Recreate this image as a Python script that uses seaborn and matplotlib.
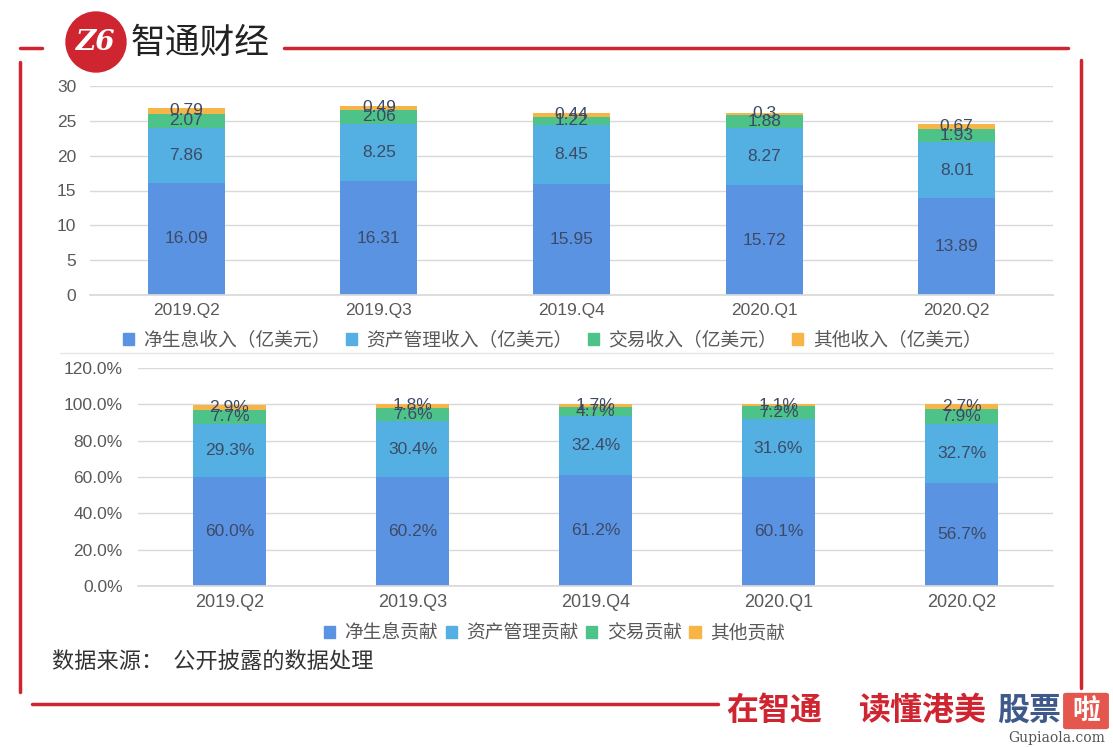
import seaborn as sns
import matplotlib.pyplot as plt
import pandas as pd
import numpy as np
from matplotlib.patches import Patch, Ellipse, FancyBboxPatch
from matplotlib.lines import Line2D

sns.set_theme(style="white")
plt.rcParams["font.family"] = ["Liberation Sans", "Noto Sans CJK SC", "DejaVu Sans"]

quarters = ["2019.Q2", "2019.Q3", "2019.Q4", "2020.Q1", "2020.Q2"]

# revenue, 亿美元
net_interest = [16.09, 16.31, 15.95, 15.72, 13.89]
asset_mgmt = [7.86, 8.25, 8.45, 8.27, 8.01]
trading = [2.07, 2.06, 1.22, 1.88, 1.93]
other = [0.79, 0.49, 0.44, 0.3, 0.67]

# contribution, %
net_interest_pct = [60.0, 60.2, 61.2, 60.1, 56.7]
asset_mgmt_pct = [29.3, 30.4, 32.4, 31.6, 32.7]
trading_pct = [7.7, 7.6, 4.7, 7.2, 7.9]
other_pct = [2.9, 1.8, 1.7, 1.1, 2.7]

top_names = ["净生息收入（亿美元）", "资产管理收入（亿美元）", "交易收入（亿美元）", "其他收入（亿美元）"]
bottom_names = ["净生息贡献", "资产管理贡献", "交易贡献", "其他贡献"]

colors = ["#5b93e3", "#54b0e2", "#4dc38a", "#f7b548"]
LABEL_C = "#3d4a66"
TICK_C = "#595959"
GRID_C = "#d9d9d9"
RED = "#cf2530"

W, H = 1113, 747


def fx(x):
    return x / W


def fy(y):
    return 1 - y / H


def stacked(ax, series, names, fmt, width):
    cum = np.cumsum(np.array(series), axis=0)
    # draw from the tallest cumulative down so each segment shows
    for i in reversed(range(len(series))):
        sns.barplot(x=quarters, y=cum[i], color=colors[i], width=width,
                    saturation=1, ax=ax, linewidth=0)
    for i, s in enumerate(series):
        for j, v in enumerate(s):
            mid = cum[i][j] - v / 2
            ax.text(j, mid, fmt(v), ha="center", va="center", fontsize=12.5,
                    color=LABEL_C)
    ax.set_xlim(-0.5, len(quarters) - 0.5)
    ax.yaxis.grid(True, color=GRID_C, lw=1)
    ax.set_axisbelow(True)
    for sp in ["top", "left", "right"]:
        ax.spines[sp].set_visible(False)
    ax.spines["bottom"].set_color(GRID_C)
    ax.tick_params(length=0, colors=TICK_C, labelsize=12.5)
    ax.tick_params(axis="x", pad=6)
    ax.set_xlabel("")
    ax.set_ylabel("")
    handles = [Patch(color=c, label=n) for c, n in zip(colors, names)]
    return handles


fig = plt.figure(figsize=(W / 100, H / 100), dpi=100)

# top chart: revenue
ax1 = fig.add_axes([fx(90), fy(295), fx(1053) - fx(90), fy(86) - fy(295)])
h1 = stacked(ax1, [net_interest, asset_mgmt, trading, other], top_names,
             lambda v: f"{v:g}", 0.4)
ax1.set_ylim(0, 30)
ax1.set_yticks(range(0, 31, 5))
ax1.tick_params(axis="y", pad=10)
ax1.legend(handles=h1, loc="upper center", bbox_to_anchor=(0.48, -0.095), ncol=4,
           frameon=False, fontsize=13.5, handlelength=0.6, handleheight=0.6,
           columnspacing=0.8, handletextpad=0.5, labelcolor=TICK_C)

# bottom chart: contribution share
ax2 = fig.add_axes([fx(138), fy(586), fx(1053) - fx(138), fy(368) - fy(586)])
h2 = stacked(ax2, [net_interest_pct, asset_mgmt_pct, trading_pct, other_pct],
             bottom_names, lambda v: f"{v:.1f}%", 0.4)
ax2.set_ylim(0, 120)
ax2.set_yticks(range(0, 121, 20))
ax2.set_yticklabels([f"{t:.1f}%" for t in range(0, 121, 20)])
ax2.tick_params(axis="y", pad=11)
ax2.tick_params(axis="x", labelsize=13)
ax2.legend(handles=h2, loc="upper center", bbox_to_anchor=(0.455, -0.1), ncol=4,
           frameon=False, fontsize=13.5, handlelength=0.6, handleheight=0.6,
           columnspacing=0.4, handletextpad=0.5, labelcolor=TICK_C)

fig.add_artist(Line2D([fx(60), fx(1053)], [fy(353), fy(353)], color="#e6e6e6", lw=1))

fig.text(fx(52), fy(661), "数据来源：  公开披露的数据处理", fontsize=16,
         color="#333333", va="center", family=["Noto Sans CJK SC"])

# red frame around the chart
for xs, ys in [([20, 20], [62, 692]), ([20, 42], [48, 48]), ([284, 1068], [48, 48]),
               ([1081, 1081], [60, 688]), ([32, 718], [704, 704])]:
    fig.add_artist(Line2D([fx(x) for x in xs], [fy(y) for y in ys],
                          color=RED, lw=2.5, solid_capstyle="round"))

# header logo
fig.add_artist(Ellipse((fx(96), fy(42)), 60 / W, 60 / H, color=RED))
fig.text(fx(96), fy(43), "Z6", color="white", fontsize=20, fontweight="bold",
         fontstyle="italic", family=["DejaVu Serif"], ha="center", va="center")
fig.text(fx(131), fy(43), "智通财经", fontsize=25, color="#222222", va="center",
         family=["Noto Sans CJK SC"])

# footer slogan
fig.text(fx(726), fy(711), "在智通", fontsize=23, fontweight="bold",
         color=RED, va="center", family=["Noto Sans CJK SC"])
fig.text(fx(858), fy(711), "读懂港美", fontsize=23, fontweight="bold",
         color=RED, va="center", family=["Noto Sans CJK SC"])
fig.text(fx(997), fy(711), "股票", fontsize=23, fontweight="bold",
         color="#3e5a8a", va="center", family=["Noto Sans CJK SC"])
fig.add_artist(FancyBboxPatch((fx(1066), fy(727)), 40 / W, 32 / H,
                              boxstyle="round,pad=0.002", color="#e4574f"))
fig.text(fx(1086), fy(711), "啦", fontsize=20, fontweight="bold", color="white",
         ha="center", va="center", family=["Noto Sans CJK SC"])
fig.text(fx(1105), fy(738), "Gupiaola.com", fontsize=10, color="#555555",
         ha="right", va="center", family=["DejaVu Serif"])

fig.savefig("out.png", dpi=100)
plt.close(fig)
